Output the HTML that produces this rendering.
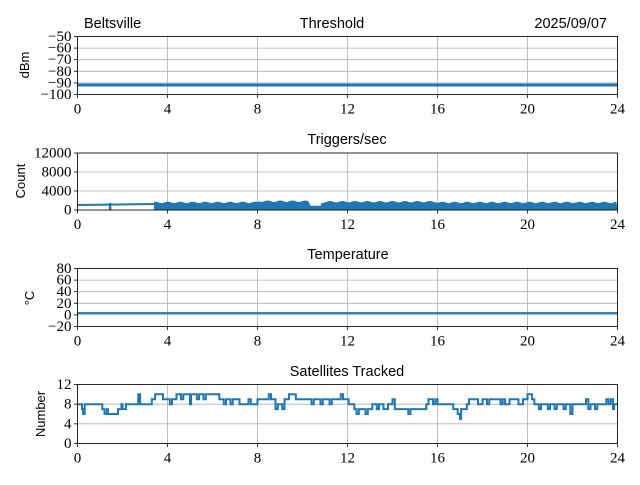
<!DOCTYPE html>
<html><head><meta charset="utf-8"><style>
body{margin:0;background:#fff}
</style></head><body>
<svg id="c" width="640" height="480" xmlns="http://www.w3.org/2000/svg"></svg>
<script>
const svg=document.getElementById('c');let h='';
const SER='font-family="Liberation Serif, serif" font-size="15"';
const SAN='font-family="Liberation Sans, sans-serif" font-size="14.5"';
const L=77.5,R=617.5,X=t=>L+22.5*t;
function ax(top,bot,vmin,vmax,ticks){
  const Y=v=>bot-(v-vmin)/(vmax-vmin)*(bot-top);
  for(let t=0;t<=24;t+=4){h+=`<line x1="${X(t)}" y1="${top}" x2="${X(t)}" y2="${bot}" stroke="#b0b0b0" stroke-width="0.8"/>`;
    h+=`<line x1="${X(t)}" y1="${bot}" x2="${X(t)}" y2="${bot+3.5}" stroke="#000" stroke-width="0.8"/>`;
    h+=`<text ${SER} x="${X(t)}" y="${bot+19}" text-anchor="middle">${t}</text>`;}
  ticks.forEach(v=>{h+=`<line x1="${L}" y1="${Y(v)}" x2="${R}" y2="${Y(v)}" stroke="#b0b0b0" stroke-width="0.8"/>`;
    h+=`<line x1="${L-3.5}" y1="${Y(v)}" x2="${L}" y2="${Y(v)}" stroke="#000" stroke-width="0.8"/>`;
    h+=`<text ${SER} x="${L-6}" y="${Y(v)+4.5}" text-anchor="end">${v<0?'−'+(-v):v}</text>`;});
  return Y;
}
function frame(top,bot){h+=`<rect x="${L}" y="${top}" width="${R-L}" height="${bot-top}" fill="none" stroke="#000" stroke-width="0.8"/>`;}
const C='#1f77b4';
let Y1=ax(36.5,94.5,-100,-50,[-50,-60,-70,-80,-90,-100]);
h+=`<rect x="${L}" y="83.5" width="540" height="3" fill="${C}"/>`;
frame(36.5,94.5);
let Y2=ax(153,210,0,12000,[0,4000,8000,12000]);
h+=`<line x1="${L}" y1="205" x2="${X(3.4)}" y2="204" stroke="${C}" stroke-width="2"/>`;
h+=`<line x1="${X(1.45)}" y1="203" x2="${X(1.45)}" y2="210" stroke="${C}" stroke-width="2.5"/>`;
let p=`M${X(3.4)},210 L${X(3.4)},203 `;
for(let t=3.4;t<=24;t+=0.05){let v=1450+(t>8&&t<10.3?250:0)+(t>11&&t<16?150:0)+((Math.sin(t*137)*0.5+0.5)*300);if(Math.abs(t-10.6)<0.25)v=900;p+=`L${X(t).toFixed(1)},${Y2(v).toFixed(1)} `;}
p+=`L${R},210Z`;h+=`<path d="${p}" fill="${C}"/>`;
frame(153,210);
let Y3=ax(268.5,326.5,-20,80,[-20,0,20,40,60,80]);
h+=`<line x1="${L}" y1="${Y3(3)}" x2="${R}" y2="${Y3(3)}" stroke="${C}" stroke-width="2"/>`;
frame(268.5,326.5);
let Y4=ax(384.5,443.5,0,12,[0,4,8,12]);
const d=[[0,8],[0.2,7],[0.25,6],[0.32,8],[1.0,8],[1.1,7],[1.2,6],[1.3,7],[1.35,6],[1.8,7],[1.95,8],[2.0,7],[2.15,8],[2.7,10],[2.78,8],[3.3,9],[3.45,10],[3.8,9],[4.1,8],[4.2,9],[4.4,10],[4.6,9],[4.7,10],[5.0,8],[5.05,10],[5.3,9],[5.4,10],[5.6,9],[5.7,10],[6.3,9],[6.5,8],[6.6,9],[6.8,8],[6.9,9],[7.2,8],[7.4,8],[7.6,9],[7.7,8],[8.0,9],[8.3,9],[8.5,10],[8.6,9],[8.8,7],[8.9,8],[9.1,7],[9.2,9],[9.4,10],[9.7,9],[10.4,8],[10.5,9],[10.8,8],[10.9,9],[11.2,8],[11.3,9],[11.6,9],[11.7,10],[11.8,9],[12.0,9],[12.05,8],[12.3,7],[12.4,6],[12.5,7],[12.8,6],[12.9,7],[13.1,8],[13.3,7],[13.4,8],[13.6,7],[13.8,8],[14.0,9],[14.1,7],[14.5,7],[14.7,6],[14.8,7],[15.5,8],[15.6,9],[15.8,8],[15.9,9],[16.0,8],[16.1,8],[16.7,7],[16.9,6],[17.0,5],[17.05,7],[17.3,8],[17.4,9],[17.8,8],[18.0,9],[18.2,8],[18.3,9],[18.7,9],[18.8,8],[18.9,9],[19.0,8],[19.2,9],[19.6,8],[19.8,9],[20.0,10],[20.2,9],[20.3,8],[20.5,7],[20.6,8],[20.9,7],[21.0,8],[21.2,7],[21.3,8],[21.6,7],[21.7,8],[21.9,6],[22.0,8],[22.6,9],[22.7,7],[22.8,8],[23.0,7],[23.1,8],[23.5,9],[23.6,8],[23.7,9],[23.8,7],[23.85,8],[24,8]];
let q='';d.forEach((e,i)=>{const x=X(e[0]).toFixed(1),y=Y4(e[1]).toFixed(1);if(i==0)q+=`M${x},${y}`;else q+=` L${x},${Y4(d[i-1][1]).toFixed(1)} L${x},${y}`;});
h+=`<path d="${q}" fill="none" stroke="${C}" stroke-width="2"/>`;
frame(384.5,443.5);
const T=(x,y,s,a)=>h+=`<text ${SAN} x="${x}" y="${y}" text-anchor="${a}">${s}</text>`;
T(84,28,'Beltsville','start');T(332,28,'Threshold','middle');T(607,28,'2025/09/07','end');
T(347,144,'Triggers/sec','middle');T(348,259,'Temperature','middle');T(347,376,'Satellites Tracked','middle');
const V=(x,y,s)=>h+=`<text font-family="Liberation Sans, sans-serif" font-size="13" x="${x}" y="${y}" text-anchor="middle" transform="rotate(-90 ${x} ${y})">${s}</text>`;
V(29,65,'dBm');V(25,181,'Count');V(34,298,'°C');V(45,414,'Number');
svg.innerHTML=h;
</script>
</body></html>
